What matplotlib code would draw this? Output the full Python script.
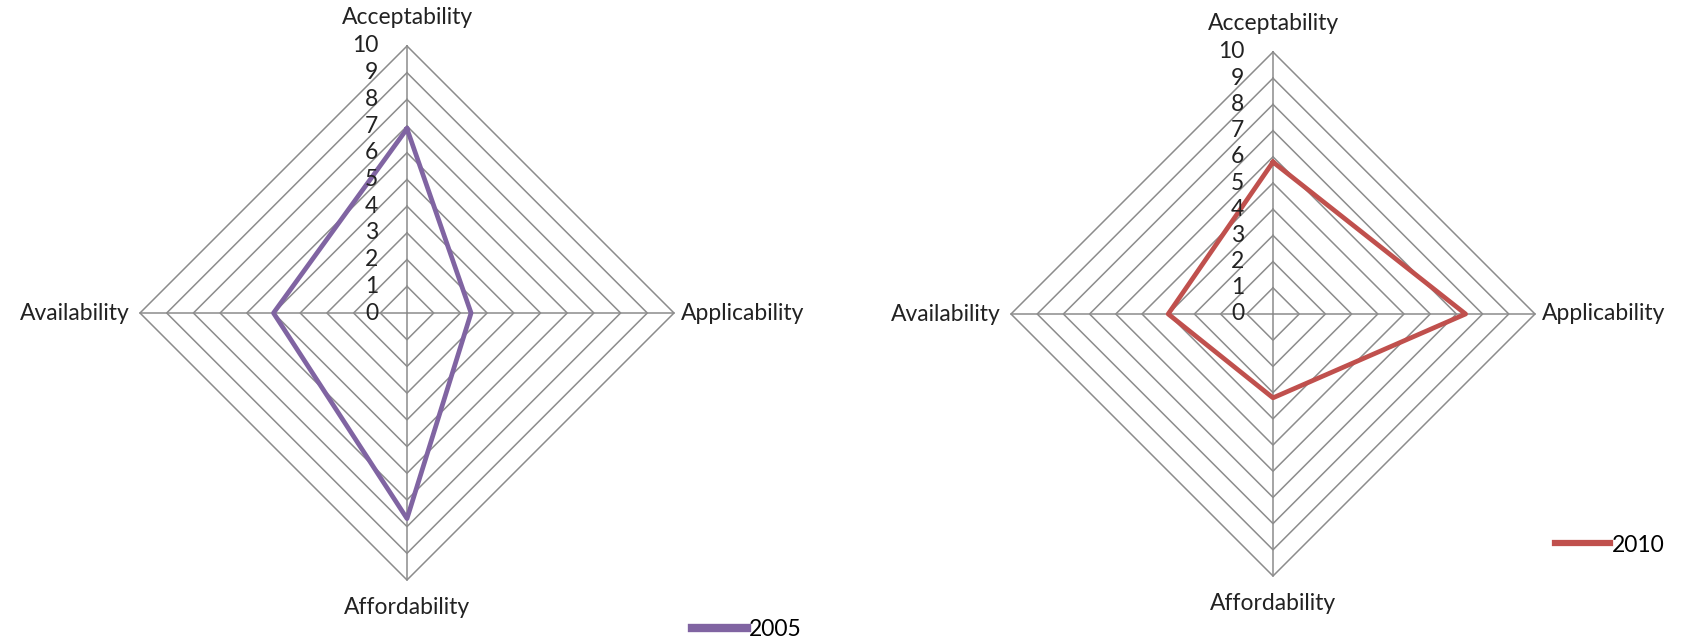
import numpy as np
import matplotlib
matplotlib.use('Agg')
from matplotlib import pyplot as plt
from matplotlib.transforms import offset_copy

plt.rcParams['font.family'] = ['Lato', 'DejaVu Sans']

categories = ['Acceptability', 'Applicability', 'Affordability', 'Availability']
values_2005 = [6.9, 2.4, 7.7, 5.0]
values_2010 = [5.8, 7.35, 3.2, 4.0]
levels = list(range(0, 11))

grid_col = '#8c8c8c'
fs = 16.5

# label offsets in pixels (x, y, ha) for top, right, bottom, left
lab_off = [(0, 29, 'center'), (7, 0, 'left'), (0, -28, 'center'), (-10, 0, 'right')]


def radar(fig, rect, values, color, label, lw):
    ax = fig.add_axes(rect, projection='polar')
    ax.set_theta_zero_location('N')
    ax.set_theta_direction(-1)
    th = np.linspace(0, 2 * np.pi, len(categories), endpoint=False)
    thc = np.append(th, th[0])
    for lv in levels[1:]:
        ax.plot(thc, [lv] * len(thc), color=grid_col, lw=1.1, clip_on=False)
    for t in th:
        ax.plot([t, t], [0, levels[-1]], color=grid_col, lw=1.1, clip_on=False)
    vals = list(values) + [values[0]]
    ax.plot(thc, vals, color=color, lw=lw, label=label, solid_joinstyle='round',
            clip_on=False, zorder=5)
    ax.set_ylim(0, levels[-1])
    ax.grid(False)
    ax.spines['polar'].set_visible(False)
    ax.set_xticks([])
    ax.set_yticks([])
    ax.patch.set_alpha(0)
    tr = offset_copy(ax.transData, fig=fig, x=-29, y=0, units='dots')
    for lv in levels:
        ax.text(0, lv, str(lv), transform=tr, ha='right', va='center',
                fontsize=fs, color='#222222', zorder=6)
    for t, name, (dx, dy, ha) in zip(th, categories, lab_off):
        trl = offset_copy(ax.transData, fig=fig, x=dx, y=dy, units='dots')
        ax.text(t, levels[-1], name, transform=trl, ha=ha, va='center',
                fontsize=fs, color='#222222')
    return ax


W, H = 1685, 641
fig = plt.figure(figsize=(W / 100, H / 100), dpi=100)

ax1 = radar(fig, [140 / W, (H - 580) / H, 534 / W, 534 / H], values_2005,
            '#8064A2', '2005', 3.4)
ax2 = radar(fig, [1011 / W, (H - 576) / H, 524 / W, 524 / H], values_2010,
            '#C0504D', '2010', 3.4)

leg1 = ax1.legend(loc='center left', bbox_to_anchor=(692 / W, 1 - 630 / H),
                  bbox_transform=fig.transFigure, frameon=False, fontsize=fs,
                  handlelength=2.4, handletextpad=0.08, borderpad=0, borderaxespad=0)
leg1.get_lines()[0].set_linewidth(6)
leg2 = ax2.legend(loc='center left', bbox_to_anchor=(1555 / W, 1 - 545 / H),
                  bbox_transform=fig.transFigure, frameon=False, fontsize=fs,
                  handlelength=2.4, handletextpad=0.08, borderpad=0, borderaxespad=0)
leg2.get_lines()[0].set_linewidth(4.5)

fig.savefig('out.png', dpi=100)
